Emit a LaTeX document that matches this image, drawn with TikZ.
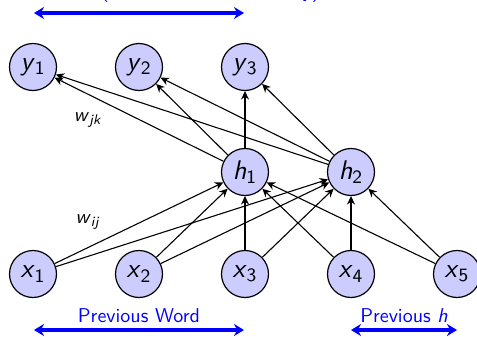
\documentclass[tikz,border=0pt]{standalone}
\usepackage{amsmath}
\usetikzlibrary{arrows.meta}
\renewcommand\familydefault{\sfdefault}
% variable with subscript, all in sans
\newcommand\nvar[2]{\textit{#1}\textsubscript{#2}}
\begin{document}
\begin{tikzpicture}[x=0.5pt,y=-0.5pt,
  unit/.style={circle,draw=black,line width=0.6pt,fill=blue!20,
    minimum size=23.5pt,inner sep=0pt,font=\fontsize{13.5}{15}\selectfont},
  wire/.style={-{Stealth[length=4.2pt,width=4pt]},line width=0.55pt},
  span/.style={{Stealth[length=5pt,width=6pt]}-{Stealth[length=5pt,width=6pt]},
    blue,line width=1.6pt},
  caption/.style={blue,font=\fontsize{10}{12}\selectfont,inner sep=0pt},
  weight/.style={font=\fontsize{10}{12}\selectfont}]
\useasboundingbox (0,0) rectangle (477,337);

% output layer
\node[unit] (y1) at (33,67) {\nvar{y}{1}};
\node[unit] (y2) at (139,67) {\nvar{y}{2}};
\node[unit] (y3) at (245,67) {\nvar{y}{3}};
% hidden layer
\node[unit] (h1) at (245,172) {\nvar{h}{1}};
\node[unit] (h2) at (351,172) {\nvar{h}{2}};
% input layer
\node[unit] (x1) at (33,274) {\nvar{x}{1}};
\node[unit] (x2) at (139,274) {\nvar{x}{2}};
\node[unit] (x3) at (245,274) {\nvar{x}{3}};
\node[unit] (x4) at (351,274) {\nvar{x}{4}};
\node[unit] (x5) at (457,274) {\nvar{x}{5}};

% weights
\foreach \i in {1,...,5}
  \foreach \j in {1,2}
    \draw[wire] (x\i) -- (h\j);
\foreach \j in {1,2}
  \foreach \k in {1,2,3}
    \draw[wire] (h\j) -- (y\k);

\node[weight] (wjk) at (88,120) {\textit{w}\textsubscript{\textit{jk}}};
\node[weight] (wij) at (88,222) {\textit{w}\textsubscript{\textit{ij}}};

% spans
\coordinate (t1) at (34,13);
\coordinate (t2) at (244,13);
\draw[span] (t1) -- (t2);
\node[caption,anchor=base east] (top) at (320,-3) {Next Word (softmax over vocabulary)};

\coordinate (p1) at (34,330);
\coordinate (p2) at (244,330);
\draw[span] (p1) -- (p2);
\node[caption] (pw) at (139,316) {Previous Word};

\coordinate (q1) at (351,330);
\coordinate (q2) at (457,330);
\draw[span] (q1) -- (q2);
\node[caption] (ph) at (404,316) {Previous \textit{h}};
\end{tikzpicture}
\end{document}
